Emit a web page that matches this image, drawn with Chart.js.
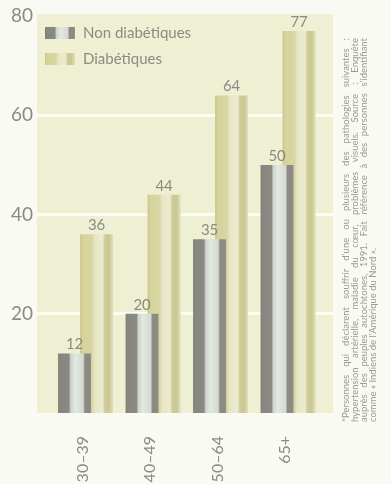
<!DOCTYPE html>
<html>
<head>
<meta charset="utf-8">
<script src="https://cdn.jsdelivr.net/npm/chart.js@4/dist/chart.umd.min.js"></script>
<style>
  html, body { margin: 0; padding: 0; background: #fafaf5; }
  canvas { display: block; }
</style>
</head>
<body>
<canvas id="chart" width="391" height="484"></canvas>
<script>
// Age groups and the share (%) of people reporting at least one of the conditions
const ageGroups = ['30–39', '40–49', '50–64', '65+'];
const nonDiabetic = [12, 20, 35, 50];
const diabetic = [36, 44, 64, 77];
const yTickValues = [20, 40, 60, 80];
const seriesNames = ['Non diabétiques', 'Diabétiques'];
const noteLines = [
  '*Personnes qui déclarent souffrir d’une ou plusieurs des pathologies suivantes :',
  'hypertension artérielle, maladie du cœur, problèmes visuels. Source : Enquête',
  'auprès des peuples autochtones, 1991. Fait référence à des personnes s’identifiant',
  'comme « Indiens de l’Amérique du Nord ».'
];

const FONT = 'Lato, "Open Sans", sans-serif';
const TEXT_GREY = '#8c8b82';
const CAT_PCT = 0.652;
const BAR_PCT = 1.5;

// Cylinder-like shading for each series: [offset, colour]
const shading = [
  [[0, '#7c7b74'], [0.05, '#878680'], [0.33, '#8a8982'], [0.38, '#cdd3cc'],
   [0.52, '#e2e8e2'], [0.76, '#d4d9d1'], [0.81, '#8c8b84'], [0.96, '#8a8982'], [1, '#9c9b92']],
  [[0, '#c8c58c'], [0.08, '#d6d39b'], [0.36, '#d8d6a2'], [0.44, '#e6e5c3'],
   [0.68, '#ecebd0'], [0.75, '#cfcc96'], [0.88, '#cac792'], [1, '#e2e1bf']]
];
const flatColours = ['#8a887e', '#d6d39e'];

function makeGradient(c2d, series, left, width) {
  const g = c2d.createLinearGradient(left, 0, left + width, 0);
  shading[series].forEach(([o, col]) => g.addColorStop(o, col));
  return g;
}

function barFill(ctx) {
  const chart = ctx.chart;
  const xs = chart.scales && chart.scales.x;
  if (!chart.chartArea || !xs || ctx.type !== 'data') return flatColours[ctx.datasetIndex];
  const unit = xs.getPixelForValue(1) - xs.getPixelForValue(0);
  if (!isFinite(unit) || unit <= 0) return flatColours[ctx.datasetIndex];
  const chunk = unit * CAT_PCT / 2;
  const centre = xs.getPixelForValue(ctx.dataIndex) - chunk / 2 + chunk * ctx.datasetIndex;
  const width = chunk * BAR_PCT;
  return makeGradient(chart.ctx, ctx.datasetIndex, centre - width / 2, width);
}

// Page background and the pale plot panel
const panelPlugin = {
  id: 'panel',
  beforeDraw(chart) {
    const { ctx, chartArea: a } = chart;
    ctx.save();
    ctx.fillStyle = '#fafaf5';
    ctx.fillRect(0, 0, chart.width, chart.height);
    ctx.fillStyle = '#eeefd3';
    ctx.fillRect(a.left, a.top - 2, a.right - a.left, a.bottom - a.top + 2);
    ctx.restore();
  }
};

// Value above every bar
const valuePlugin = {
  id: 'values',
  afterDatasetsDraw(chart) {
    const { ctx } = chart;
    ctx.save();
    ctx.font = '15px ' + FONT;
    ctx.fillStyle = TEXT_GREY;
    ctx.textAlign = 'center';
    ctx.textBaseline = 'alphabetic';
    chart.data.datasets.forEach((ds, di) => {
      chart.getDatasetMeta(di).data.forEach((el, i) => {
        ctx.fillText(String(ds.data[i].y), el.x, el.y - 4);
      });
    });
    ctx.restore();
  }
};

// Legend in the top-left corner of the panel
const legendPlugin = {
  id: 'cornerLegend',
  afterDraw(chart) {
    const { ctx, chartArea: a } = chart;
    ctx.save();
    ctx.font = '15px ' + FONT;
    ctx.textBaseline = 'middle';
    seriesNames.forEach((name, i) => {
      const y = a.top + 17 + i * 26;
      const left = a.left + 8;
      ctx.fillStyle = makeGradient(ctx, i, left, 30);
      ctx.fillRect(left, y - 6, 30, 12);
      ctx.fillStyle = TEXT_GREY;
      ctx.fillText(name, left + 38, y);
    });
    ctx.restore();
  }
};

// Vertical footnote on the right, justified lines reading upwards
const notePlugin = {
  id: 'note',
  afterDraw(chart) {
    const { ctx } = chart;
    const bottom = 422, length = 384, lastLength = 182;
    ctx.save();
    ctx.fillStyle = '#9b9a8e';
    ctx.textBaseline = 'middle';
    ctx.textAlign = 'left';
    ctx.font = '10px ' + FONT;
    const ref = ctx.measureText(noteLines[noteLines.length - 1]).width;
    const size = Math.min(9.5, 10 * lastLength / ref);
    ctx.font = size.toFixed(2) + 'px ' + FONT;
    noteLines.forEach((line, li) => {
      ctx.save();
      ctx.translate(346 + li * 8.9, bottom);
      ctx.rotate(-Math.PI / 2);
      const natural = ctx.measureText(line).width;
      const last = li === noteLines.length - 1;
      if (last) {
        ctx.fillText(line, 0, 0);
      } else if (natural >= length) {
        ctx.scale(length / natural, 1);
        ctx.fillText(line, 0, 0);
      } else {
        const words = line.split(' ');
        const wordsWidth = words.reduce((s, w) => s + ctx.measureText(w).width, 0);
        const gap = (length - wordsWidth) / (words.length - 1);
        let x = 0;
        words.forEach(w => { ctx.fillText(w, x, 0); x += ctx.measureText(w).width + gap; });
      }
      ctx.restore();
    });
    ctx.restore();
  }
};

new Chart(document.getElementById('chart'), {
  type: 'bar',
  data: {
    datasets: [
      {
        label: seriesNames[0],
        data: nonDiabetic.map((v, i) => ({ x: i, y: v })),
        backgroundColor: barFill,
        borderWidth: 0
      },
      {
        label: seriesNames[1],
        data: diabetic.map((v, i) => ({ x: i, y: v })),
        backgroundColor: barFill,
        borderWidth: 0
      }
    ]
  },
  options: {
    responsive: false,
    animation: false,
    devicePixelRatio: 1,
    categoryPercentage: CAT_PCT,
    barPercentage: BAR_PCT,
    layout: { padding: { left: 0, right: 58, top: 16, bottom: 0 } },
    plugins: { legend: { display: false }, tooltip: { enabled: false } },
    scales: {
      x: {
        type: 'linear',
        offset: false,
        min: -0.72,
        max: 3.665,
        afterBuildTicks(scale) { scale.ticks = ageGroups.map((_, i) => ({ value: i })); },
        afterFit(scale) { scale.height = 71; },
        grid: { display: false },
        border: { display: false },
        ticks: {
          autoSkip: false,
          minRotation: 90,
          maxRotation: 90,
          padding: 15,
          labelOffset: -3,
          color: TEXT_GREY,
          font: { family: FONT, size: 16 },
          callback: v => ageGroups[v] ?? ''
        }
      },
      y: {
        min: 0,
        max: 80,
        afterBuildTicks(scale) { scale.ticks = yTickValues.map(v => ({ value: v })); },
        afterFit(scale) { scale.width = 37; },
        border: { display: false },
        grid: {
          drawTicks: false,
          lineWidth: 3,
          color: c => (c.tick && c.tick.value < 80 ? 'rgba(252,252,244,0.95)' : 'rgba(0,0,0,0)')
        },
        ticks: {
          padding: 4,
          color: TEXT_GREY,
          font: { family: FONT, size: 19 }
        }
      }
    }
  },
  plugins: [panelPlugin, valuePlugin, legendPlugin, notePlugin]
});
</script>
</body>
</html>
